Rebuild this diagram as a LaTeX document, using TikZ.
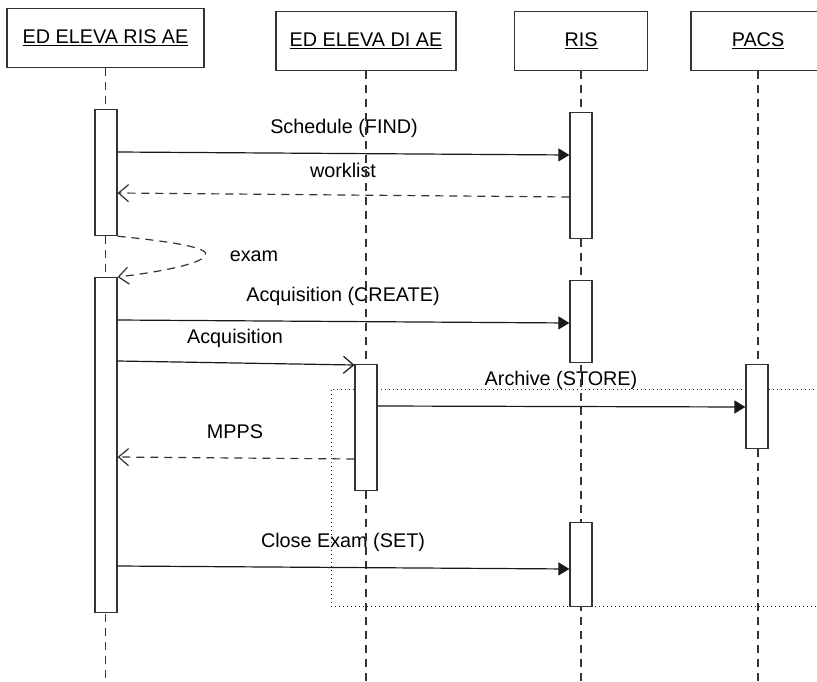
\documentclass[tikz,border=0pt]{standalone}
\usepackage{fontspec}
\setmainfont{Liberation Sans}
\usetikzlibrary{arrows.meta}
\tikzset{
  head/.style={draw=black!80, line width=1.2pt, minimum height=59pt, inner sep=0pt},
  bar/.style={draw=black!80, fill=white, line width=1.2pt, minimum width=22pt, inner sep=0pt, anchor=north},
  life/.style={draw=black!80, line width=1.2pt, dash pattern=on 8pt off 6pt},
  msg/.style={draw=black!90, line width=1.2pt, -{Triangle[length=11pt,width=13pt]}},
  call/.style={draw=black!90, line width=1.2pt, -{Straight Barb[length=10pt,width=17pt]}},
  ret/.style={draw=black!80, line width=1.2pt, dash pattern=on 8pt off 6pt, -{Straight Barb[length=10pt,width=17pt]}},
  lbl/.style={inner sep=0pt},
}
\begin{document}
\begin{tikzpicture}[x=1pt,y=-1pt,font=\fontsize{19.8}{23}\selectfont]
			\clip (0,0) rectangle (817,682);
			\fill[white] (0,0) rectangle (817,682);
			
			% heads
			\node[head, minimum width=197pt] (risae) at (105.5,38) {\underline{ED ELEVA RIS AE}};
			\node[head, minimum width=180pt] (diae) at (366,41) {\underline{ED ELEVA DI AE}};
			\node[head, minimum width=133pt] (ris) at (581,41) {\underline{RIS}};
			\node[head, minimum width=134pt] (pacs) at (758,41) {\underline{PACS}};
			
			% frame
			\draw[black!85, line width=1pt, dash pattern=on 1pt off 3pt] (830,389) -- (331,389) -- (331,606) -- (830,606);
			
			\node[lbl] (lfind) at (344,128) {Schedule (FIND)};
			\node[lbl] (lwork) at (343,170) {worklist};
			\node[lbl] (lexam) at (254,256) {exam};
			\node[lbl] (lcreate) at (343,296) {Acquisition (CREATE)};
			\node[lbl] (lacq) at (235,338) {Acquisition};
			\node[lbl, fill=white] (lstore) at (561,380) {Archive (STORE)};
			\node[lbl] (lmpps) at (235,432) {MPPS};
			\node[lbl] (lset) at (343,542) {Close Exam (SET)};
			
			% lifelines
			\draw[life] (risae.south) -- (risae.south |- 0,682);
			\draw[life] (diae.south) -- (diae.south |- 0,682);
			\draw[life] (ris.south) -- (ris.south |- 0,682);
			\draw[life] (pacs.south) -- (pacs.south |- 0,682);
			
			% bars
			\node[bar, minimum height=126pt] (a1) at (106,109) {};
			\node[bar, minimum height=335pt] (a2) at (106,277) {};
			\node[bar, minimum height=126pt] (r1) at (581,112) {};
			\node[bar, minimum height=82pt] (r2) at (581,280) {};
			\node[bar, minimum height=84pt] (r3) at (581,522) {};
			\node[bar, minimum height=126pt] (d1) at (366,364) {};
			\node[bar, minimum height=84pt] (p1) at (757,364) {};
			
			% messages
			\draw[msg] (a1.east |- 0,152) -- (r1.west |- 0,155);
			\draw[ret] (r1.west |- 0,197) -- (a1.east |- 0,193);
			\draw[ret] (a1.south east) .. controls (175,242) and (212,248) .. (205,256) .. controls (200,264) and (160,272) .. (a2.north east);
			\draw[msg] (a2.east |- 0,320) -- (r2.west |- 0,323);
			\draw[call] (a2.east |- 0,361) -- (d1.west |- 0,365);
			\draw[msg] (d1.east |- 0,406) -- (p1.west |- 0,407);
			\draw[ret] (d1.west |- 0,459) -- (a2.east |- 0,457);
			\draw[msg] (a2.east |- 0,566) -- (r3.west |- 0,569);
		\end{tikzpicture}
\end{document}
